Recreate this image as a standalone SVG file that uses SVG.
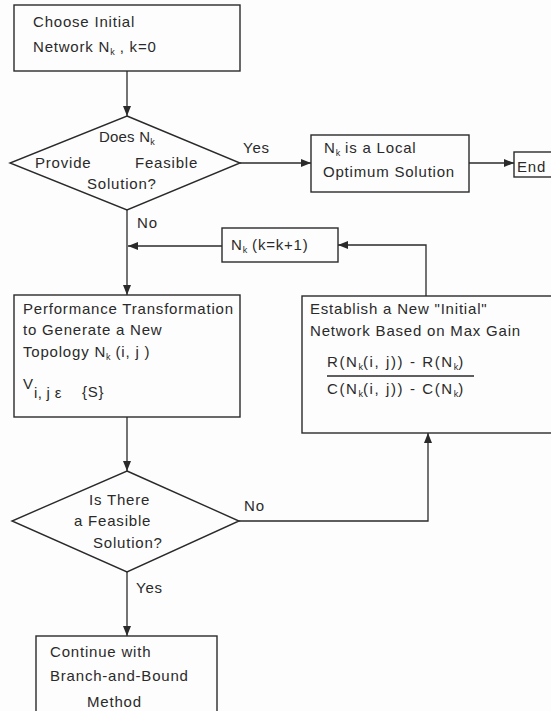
<svg xmlns="http://www.w3.org/2000/svg" width="551" height="711" viewBox="0 0 551 711">
<defs>
<marker id="ah" viewBox="0 0 10 8" refX="10" refY="4" markerWidth="10" markerHeight="8" markerUnits="userSpaceOnUse" orient="auto">
<path d="M0,0 L10,4 L0,8 Z" fill="#2a2a2a"/>
</marker>
<style>
.box{fill:none;stroke:#2a2a2a;stroke-width:1.4}
.ln{fill:none;stroke:#2a2a2a;stroke-width:1.3}
text{font-family:"Liberation Sans",Arial,sans-serif;font-size:15px;fill:#2a2a2a;letter-spacing:0.8px}
.sub{font-size:9px;letter-spacing:0}
.frac{letter-spacing:1.6px}
</style>
</defs>
<rect width="551" height="711" fill="#fdfdfd"/>
<g id="connectors">
<path class="ln" d="M127,71 V116" marker-end="url(#ah)"/>
<path class="ln" d="M240,163 H311" marker-end="url(#ah)"/>
<path class="ln" d="M469,163 H514" marker-end="url(#ah)"/>
<path class="ln" d="M127,210 V295" marker-end="url(#ah)"/>
<path class="ln" d="M222,246 H128" marker-end="url(#ah)"/>
<path class="ln" d="M426,296 V245 H338" marker-end="url(#ah)"/>
<path class="ln" d="M127,417 V471" marker-end="url(#ah)"/>
<path class="ln" d="M239,521 H428 V433" marker-end="url(#ah)"/>
<path class="ln" d="M127,572 V636" marker-end="url(#ah)"/>
<text x="243" y="153">Yes</text>
<text x="137" y="228">No</text>
<text x="244" y="511">No</text>
<text x="136" y="593">Yes</text>
</g>
<g id="start">
<rect class="box" x="14" y="5" width="226" height="66"/>
<text x="33" y="27">Choose Initial</text>
<text x="33" y="52">Network N<tspan class="sub" dy="3">k</tspan><tspan dy="-3"> , k=0</tspan></text>
</g>
<g id="decision1">
<polygon class="box" points="127,116 240,163 127,210 10,163"/>
<text x="99" y="142" style="letter-spacing:0.2px">Does N<tspan class="sub" dy="3">k</tspan></text>
<text x="35" y="168">Provide</text>
<text x="135" y="168">Feasible</text>
<text x="87" y="189">Solution?</text>
</g>
<g id="local-optimum">
<rect class="box" x="311" y="135" width="158" height="57"/>
<text x="324" y="153">N<tspan class="sub" dy="3">k</tspan><tspan dy="-3">  is a Local</tspan></text>
<text x="323" y="177">Optimum Solution</text>
</g>
<g id="end">
<rect class="box" x="514" y="152" width="50" height="25"/>
<text x="517" y="172">End</text>
</g>
<g id="increment">
<rect class="box" x="222" y="228" width="116" height="34"/>
<text x="231" y="250">N<tspan class="sub" dy="3">k</tspan><tspan dy="-3"> (k=k+1)</tspan></text>
</g>
<g id="transformation">
<rect class="box" x="14" y="295" width="226" height="122"/>
<text x="23" y="314">Performance Transformation</text>
<text x="23" y="335">to Generate  a New</text>
<text x="23" y="357">Topology N<tspan class="sub" dy="3">k</tspan><tspan dy="-3"> (i, j )</tspan></text>
<text x="23" y="389">V</text>
<text x="34" y="398" style="letter-spacing:0.3px">i, j ε</text>
<text x="82" y="397">{S}</text>
</g>
<g id="establish">
<rect class="box" x="302" y="296" width="262" height="137"/>
<text x="310" y="314">Establish a New "Initial"</text>
<text x="310" y="336">Network Based on Max Gain</text>
<text class="frac" x="327" y="367">R(N<tspan class="sub" dy="3">k</tspan><tspan dy="-3">(i, j)) - R(N</tspan><tspan class="sub" dy="3">k</tspan><tspan dy="-3">)</tspan></text>
<line class="ln" x1="327" y1="376" x2="474" y2="376"/>
<text class="frac" x="327" y="394">C(N<tspan class="sub" dy="3">k</tspan><tspan dy="-3">(i, j)) - C(N</tspan><tspan class="sub" dy="3">k</tspan><tspan dy="-3">)</tspan></text>
</g>
<g id="decision2">
<polygon class="box" points="127,471 239,521 127,572 12,521"/>
<text x="89" y="505">Is There</text>
<text x="74" y="526">a Feasible</text>
<text x="93" y="548">Solution?</text>
</g>
<g id="branch-bound">
<rect class="box" x="36" y="636" width="181" height="85"/>
<text x="50" y="657">Continue  with</text>
<text x="50" y="681">Branch-and-Bound</text>
<text x="87" y="707">Method</text>
</g>
</svg>
